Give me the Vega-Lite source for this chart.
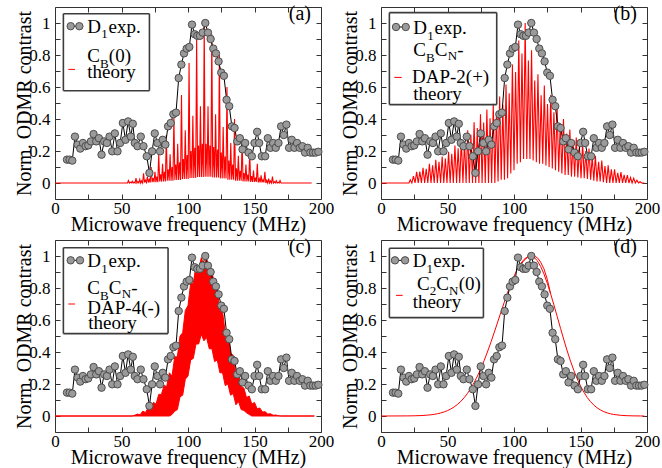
{
"$schema": "https://vega.github.io/schema/vega-lite/v6.json",
"background": "white",
"padding": {"left": 14, "top": 3, "right": 0, "bottom": 0},
"config": {
  "view": {"stroke": "#333333", "strokeWidth": 1},
  "font": "Liberation Serif",
  "axis": {"labelFont": "Liberation Serif", "titleFont": "Liberation Serif", "labelFontSize": 17, "titleFontSize": 20, "titleFontWeight": "normal", "labelColor": "#000000", "titleColor": "#000000", "tickColor": "#333333", "tickWidth": 1, "grid": false, "domain": false, "labelFlush": false, "labelOverlap": false},
  "text": {"font": "Liberation Serif", "color": "#000000"}
},
"datasets": {
  "exp": [
    {"f":9,"v":0.146},{"f":11,"v":0.146},{"f":13,"v":0.14},{"f":15,"v":0.29},{"f":17,"v":0.24},{"f":19,"v":0.215},{"f":21,"v":0.25},{"f":23,"v":0.23},{"f":25,"v":0.235},{"f":27,"v":0.26},
    {"f":29,"v":0.306},{"f":31,"v":0.26},{"f":33,"v":0.28},{"f":35,"v":0.177},{"f":37,"v":0.26},{"f":39,"v":0.25},{"f":41,"v":0.29},{"f":43,"v":0.198},{"f":45,"v":0.31},{"f":47,"v":0.198},
    {"f":49,"v":0.25},{"f":51,"v":0.375},{"f":53,"v":0.27},{"f":55,"v":0.385},{"f":57,"v":0.29},{"f":58.5,"v":0.37},{"f":60,"v":0.25},{"f":62,"v":0.23},{"f":64.5,"v":0.29},{"f":66.5,"v":0.23},
    {"f":69,"v":0.167},{"f":71,"v":0.063},{"f":73,"v":0.198},{"f":75,"v":0.31},{"f":77,"v":0.25},{"f":79,"v":0.198},{"f":81,"v":0.27},{"f":83,"v":0.24},{"f":85,"v":0.354},{"f":87,"v":0.375},
    {"f":89,"v":0.43},{"f":91,"v":0.44},{"f":93,"v":0.656},{"f":95,"v":0.74},{"f":97,"v":0.81},{"f":99,"v":0.84},{"f":101,"v":0.85},{"f":103,"v":0.99},{"f":105,"v":0.93},{"f":107,"v":0.92},
    {"f":109,"v":0.92},{"f":111,"v":0.94},{"f":113,"v":1.0},{"f":115,"v":0.94},{"f":117,"v":0.9},{"f":119,"v":0.84},{"f":121,"v":0.81},{"f":123,"v":0.76},{"f":125,"v":0.69},{"f":127,"v":0.67},
    {"f":129,"v":0.52},{"f":131,"v":0.48},{"f":133,"v":0.354},{"f":135,"v":0.344},{"f":137,"v":0.26},{"f":139,"v":0.28},{"f":141,"v":0.21},{"f":143,"v":0.25},{"f":145.5,"v":0.19},{"f":148,"v":0.167},
    {"f":150,"v":0.25},{"f":152,"v":0.32},{"f":153.5,"v":0.25},{"f":155.5,"v":0.167},{"f":158,"v":0.167},{"f":160,"v":0.28},{"f":162,"v":0.22},{"f":164,"v":0.25},{"f":166,"v":0.22},{"f":168,"v":0.25},
    {"f":170,"v":0.354},{"f":172,"v":0.3},{"f":174,"v":0.365},{"f":176,"v":0.22},{"f":178,"v":0.27},{"f":180,"v":0.22},{"f":182,"v":0.25},{"f":184,"v":0.22},{"f":186,"v":0.23},{"f":188,"v":0.19},
    {"f":190,"v":0.22},{"f":192,"v":0.19},{"f":194,"v":0.19},{"f":196,"v":0.19},{"f":198,"v":0.195}
  ],
  "thA": [
    {"f":0,"v":0},{"f":54.5,"v":0},
    {"f":55.2,"v":0.015},{"f":55.91,"v":0},{"f":56.63,"v":0.005},{"f":57.34,"v":0},{"f":58.05,"v":0.011},{"f":58.76,"v":0},{"f":59.48,"v":0.0065},{"f":60.19,"v":0},
    {"f":60.9,"v":0.03},{"f":61.61,"v":0},{"f":62.33,"v":0.009},{"f":63.04,"v":0},{"f":63.75,"v":0.0225},{"f":64.46,"v":0},{"f":65.18,"v":0.013},{"f":65.89,"v":0},
    {"f":66.6,"v":0.06},{"f":67.31,"v":0.003},{"f":68.03,"v":0.0175},{"f":68.74,"v":0.003},{"f":69.45,"v":0.04},{"f":70.16,"v":0.003},{"f":70.88,"v":0.0225},{"f":71.59,"v":0.003},
    {"f":72.3,"v":0.1},{"f":73.01,"v":0.005},{"f":73.73,"v":0.03},{"f":74.44,"v":0.005},{"f":75.15,"v":0.07},{"f":75.86,"v":0.005},{"f":76.58,"v":0.04},{"f":77.29,"v":0.005},
    {"f":78.0,"v":0.18},{"f":78.71,"v":0.009},{"f":79.43,"v":0.055},{"f":80.14,"v":0.009},{"f":80.85,"v":0.12},{"f":81.56,"v":0.009},{"f":82.28,"v":0.07},{"f":82.99,"v":0.009},
    {"f":83.7,"v":0.3},{"f":84.41,"v":0.014},{"f":85.13,"v":0.085},{"f":85.84,"v":0.014},{"f":86.55,"v":0.18},{"f":87.26,"v":0.014},{"f":87.98,"v":0.1},{"f":88.69,"v":0.014},
    {"f":89.4,"v":0.42},{"f":90.11,"v":0.019},{"f":90.83,"v":0.115},{"f":91.54,"v":0.019},{"f":92.25,"v":0.245},{"f":92.96,"v":0.019},{"f":93.68,"v":0.13},{"f":94.39,"v":0.019},
    {"f":95.1,"v":0.55},{"f":95.81,"v":0.025},{"f":96.53,"v":0.15},{"f":97.24,"v":0.025},{"f":97.95,"v":0.33},{"f":98.66,"v":0.025},{"f":99.38,"v":0.175},{"f":100.09,"v":0.025},
    {"f":100.8,"v":0.75},{"f":101.51,"v":0.032},{"f":102.23,"v":0.2},{"f":102.94,"v":0.032},{"f":103.65,"v":0.42},{"f":104.36,"v":0.032},{"f":105.08,"v":0.22},{"f":105.79,"v":0.032},
    {"f":106.5,"v":0.92},{"f":107.21,"v":0.038},{"f":107.93,"v":0.235},{"f":108.64,"v":0.038},{"f":109.35,"v":0.48},{"f":110.06,"v":0.038},{"f":110.78,"v":0.245},{"f":111.49,"v":0.038},
    {"f":112.2,"v":1.0},{"f":112.91,"v":0.039},{"f":113.63,"v":0.245},{"f":114.34,"v":0.039},{"f":115.05,"v":0.48},{"f":115.76,"v":0.039},{"f":116.48,"v":0.235},{"f":117.19,"v":0.039},
    {"f":117.9,"v":0.93},{"f":118.61,"v":0.035},{"f":119.33,"v":0.225},{"f":120.04,"v":0.035},{"f":120.75,"v":0.43},{"f":121.46,"v":0.035},{"f":122.18,"v":0.21},{"f":122.89,"v":0.035},
    {"f":123.6,"v":0.8},{"f":124.31,"v":0.029},{"f":125.03,"v":0.19},{"f":125.74,"v":0.029},{"f":126.45,"v":0.35},{"f":127.16,"v":0.029},{"f":127.88,"v":0.165},{"f":128.59,"v":0.029},
    {"f":129.3,"v":0.6},{"f":130.01,"v":0.021},{"f":130.73,"v":0.14},{"f":131.44,"v":0.021},{"f":132.15,"v":0.25},{"f":132.86,"v":0.021},{"f":133.58,"v":0.115},{"f":134.29,"v":0.021},
    {"f":135.0,"v":0.4},{"f":135.71,"v":0.014},{"f":136.43,"v":0.092},{"f":137.14,"v":0.014},{"f":137.85,"v":0.17},{"f":138.56,"v":0.014},{"f":139.28,"v":0.076},{"f":139.99,"v":0.014},
    {"f":140.7,"v":0.27},{"f":141.41,"v":0.01},{"f":142.13,"v":0.062},{"f":142.84,"v":0.01},{"f":143.55,"v":0.115},{"f":144.26,"v":0.01},{"f":144.98,"v":0.052},{"f":145.69,"v":0.01},
    {"f":146.4,"v":0.19},{"f":147.11,"v":0.007},{"f":147.83,"v":0.043},{"f":148.54,"v":0.007},{"f":149.25,"v":0.078},{"f":149.96,"v":0.007},{"f":150.68,"v":0.034},{"f":151.39,"v":0.007},
    {"f":152.1,"v":0.12},{"f":152.81,"v":0.004},{"f":153.53,"v":0.027},{"f":154.24,"v":0.004},{"f":154.95,"v":0.048},{"f":155.66,"v":0.004},{"f":156.38,"v":0.02},{"f":157.09,"v":0.004},
    {"f":157.8,"v":0.07},{"f":158.51,"v":0},{"f":159.23,"v":0.016},{"f":159.94,"v":0},{"f":160.65,"v":0.028},{"f":161.36,"v":0},{"f":162.08,"v":0.012},{"f":162.79,"v":0},
    {"f":163.5,"v":0.04},{"f":164.21,"v":0},{"f":164.93,"v":0.008},{"f":165.64,"v":0},{"f":166.35,"v":0.014},{"f":167.06,"v":0},{"f":167.78,"v":0.005},{"f":168.49,"v":0},
    {"f":169.2,"v":0.015},{"f":169.91,"v":0},{"f":193,"v":0}
  ],
  "thB": [
    {"f":0,"v":0},{"f":21,"v":0},
    {"f":22.0,"v":0.02},{"f":23.2,"v":0},{"f":24.4,"v":0.043},{"f":25.6,"v":0},{"f":26.8,"v":0.07},{"f":28.0,"v":0},
    {"f":29.2,"v":0.072},{"f":30.4,"v":0},{"f":31.6,"v":0.095},{"f":32.8,"v":0},{"f":34.0,"v":0.089},{"f":35.2,"v":0},
    {"f":36.4,"v":0.12},{"f":37.6,"v":0},{"f":38.8,"v":0.11},{"f":40.0,"v":0},{"f":41.2,"v":0.145},{"f":42.4,"v":0},
    {"f":43.6,"v":0.132},{"f":44.8,"v":0},{"f":46.0,"v":0.165},{"f":47.2,"v":0},{"f":48.4,"v":0.153},{"f":49.6,"v":0},
    {"f":50.8,"v":0.195},{"f":52.0,"v":0},{"f":53.2,"v":0.183},{"f":54.4,"v":0},{"f":55.6,"v":0.235},{"f":56.8,"v":0},
    {"f":58.0,"v":0.217},{"f":59.2,"v":0},{"f":60.4,"v":0.275},{"f":61.6,"v":0},{"f":62.8,"v":0.259},{"f":64.0,"v":0},
    {"f":65.2,"v":0.33},{"f":66.4,"v":0},{"f":67.6,"v":0.302},{"f":68.8,"v":0},{"f":70.0,"v":0.38},{"f":71.2,"v":0},
    {"f":72.4,"v":0.344},{"f":73.6,"v":0},{"f":74.8,"v":0.43},{"f":76.0,"v":0},{"f":77.2,"v":0.378},{"f":78.4,"v":0},
    {"f":79.6,"v":0.46},{"f":80.8,"v":0},{"f":82.0,"v":0.404},{"f":83.2,"v":0},{"f":84.4,"v":0.495},{"f":85.6,"v":0},
    {"f":86.8,"v":0.442},{"f":88.0,"v":0.01},{"f":89.2,"v":0.54},{"f":90.4,"v":0.02},{"f":91.6,"v":0.489},{"f":92.8,"v":0.02},
    {"f":94.0,"v":0.615},{"f":95.2,"v":0.03},{"f":96.4,"v":0.561},{"f":97.6,"v":0.06},{"f":98.8,"v":0.74},{"f":100.0,"v":0.08},
    {"f":101.2,"v":0.693},{"f":102.4,"v":0.12},{"f":103.6,"v":0.89},{"f":104.8,"v":0.13},{"f":106.0,"v":0.81},{"f":107.2,"v":0.15},
    {"f":108.4,"v":1.0},{"f":109.6,"v":0.15},{"f":110.8,"v":0.765},{"f":112.0,"v":0.15},{"f":113.2,"v":0.83},{"f":114.4,"v":0.14},
    {"f":115.6,"v":0.64},{"f":116.8,"v":0.13},{"f":118.0,"v":0.68},{"f":119.2,"v":0.12},{"f":120.4,"v":0.548},{"f":121.6,"v":0.12},
    {"f":122.8,"v":0.61},{"f":124.0,"v":0.11},{"f":125.2,"v":0.493},{"f":126.4,"v":0.1},{"f":127.6,"v":0.55},{"f":128.8,"v":0.09},
    {"f":130.0,"v":0.442},{"f":131.2,"v":0.08},{"f":132.4,"v":0.475},{"f":133.6,"v":0.07},{"f":134.8,"v":0.37},{"f":136.0,"v":0.06},
    {"f":137.2,"v":0.4},{"f":138.4,"v":0.05},{"f":139.6,"v":0.31},{"f":140.8,"v":0.05},{"f":142.0,"v":0.335},{"f":143.2,"v":0.04},
    {"f":144.4,"v":0.259},{"f":145.6,"v":0.04},{"f":146.8,"v":0.285},{"f":148.0,"v":0.035},{"f":149.2,"v":0.225},{"f":150.4,"v":0.03},
    {"f":151.6,"v":0.25},{"f":152.8,"v":0.03},{"f":154.0,"v":0.2},{"f":155.2,"v":0.025},{"f":156.4,"v":0.215},{"f":157.6,"v":0.02},
    {"f":158.8,"v":0.162},{"f":160.0,"v":0.015},{"f":161.2,"v":0.17},{"f":162.4,"v":0.01},{"f":163.6,"v":0.132},{"f":164.8,"v":0.01},
    {"f":166.0,"v":0.14},{"f":167.2,"v":0.005},{"f":168.4,"v":0.106},{"f":169.6,"v":0},{"f":170.8,"v":0.11},{"f":172.0,"v":0},
    {"f":173.2,"v":0.085},{"f":174.4,"v":0},{"f":175.6,"v":0.085},{"f":176.8,"v":0},{"f":178.0,"v":0.064},{"f":179.2,"v":0},
    {"f":180.4,"v":0.068},{"f":181.6,"v":0},{"f":182.8,"v":0.051},{"f":184.0,"v":0},{"f":185.2,"v":0.05},{"f":186.4,"v":0},
    {"f":187.6,"v":0.034},{"f":188.8,"v":0},{"f":190.0,"v":0.03},{"f":191.2,"v":0},{"f":192.4,"v":0.018},{"f":193.6,"v":0},
    {"f":194.8,"v":0.008},{"f":196.0,"v":0},{"f":198.0,"v":0}
  ],
  "thC": [
    {"f":0,"lo":0,"hi":0},{"f":58,"lo":0,"hi":0},{"f":60,"lo":0,"hi":0.005},{"f":62,"lo":0,"hi":0.012},{"f":64,"lo":0,"hi":0.008},
    {"f":66,"lo":0,"hi":0.03},{"f":68,"lo":0,"hi":0.022},{"f":70,"lo":0,"hi":0.05},{"f":72,"lo":0,"hi":0.045},{"f":74,"lo":0,"hi":0.085},
    {"f":76,"lo":0,"hi":0.075},{"f":78,"lo":0,"hi":0.135},{"f":80,"lo":0,"hi":0.135},{"f":82,"lo":0,"hi":0.19},{"f":84,"lo":0,"hi":0.185},
    {"f":86,"lo":0,"hi":0.27},{"f":88,"lo":0.01,"hi":0.25},{"f":90,"lo":0.03,"hi":0.37},{"f":92,"lo":0.04,"hi":0.37},{"f":94,"lo":0.12,"hi":0.5},
    {"f":96,"lo":0.13,"hi":0.52},{"f":98,"lo":0.23,"hi":0.66},{"f":100,"lo":0.25,"hi":0.69},{"f":102,"lo":0.35,"hi":0.83},{"f":104,"lo":0.36,"hi":0.83},
    {"f":106,"lo":0.45,"hi":0.94},{"f":108,"lo":0.45,"hi":0.91},{"f":110,"lo":0.51,"hi":0.99},{"f":112,"lo":0.47,"hi":0.94},{"f":114,"lo":0.49,"hi":0.99},
    {"f":116,"lo":0.42,"hi":0.9},{"f":118,"lo":0.42,"hi":0.91},{"f":120,"lo":0.34,"hi":0.8},{"f":122,"lo":0.35,"hi":0.79},{"f":124,"lo":0.27,"hi":0.66},
    {"f":126,"lo":0.27,"hi":0.65},{"f":128,"lo":0.19,"hi":0.52},{"f":130,"lo":0.2,"hi":0.51},{"f":132,"lo":0.13,"hi":0.39},{"f":134,"lo":0.14,"hi":0.38},
    {"f":136,"lo":0.07,"hi":0.26},{"f":138,"lo":0.09,"hi":0.27},{"f":140,"lo":0.04,"hi":0.185},{"f":142,"lo":0.035,"hi":0.175},{"f":144,"lo":0.02,"hi":0.115},
    {"f":146,"lo":0.01,"hi":0.125},{"f":148,"lo":0,"hi":0.075},{"f":150,"lo":0,"hi":0.085},{"f":152,"lo":0,"hi":0.045},{"f":154,"lo":0,"hi":0.05},
    {"f":156,"lo":0,"hi":0.025},{"f":158,"lo":0,"hi":0.027},{"f":160,"lo":0,"hi":0.012},{"f":162,"lo":0,"hi":0.014},{"f":164,"lo":0,"hi":0.005},
    {"f":166,"lo":0,"hi":0.006},{"f":168,"lo":0,"hi":0.002},{"f":170,"lo":0,"hi":0},{"f":195,"lo":0,"hi":0}
  ],
  "thD": [
    {"f":0,"v":0,"c":1},{"f":20,"v":0.0006,"c":1},{"f":25,"v":0.0013,"c":1},{"f":30,"v":0.0027,"c":1},{"f":35,"v":0.0054,"c":1},{"f":37.5,"v":0.0076,"c":1},
    {"f":40,"v":0.0104,"c":1},{"f":42.5,"v":0.0142,"c":1},{"f":45,"v":0.0192,"c":1},{"f":47.5,"v":0.0255,"c":1},{"f":50,"v":0.0337,"c":1},{"f":52.5,"v":0.0439,"c":1},
    {"f":55,"v":0.0567,"c":1},{"f":57.5,"v":0.0724,"c":1},{"f":60,"v":0.0914,"c":1},{"f":62.5,"v":0.1142,"c":1},{"f":65,"v":0.1411,"c":1},{"f":67.5,"v":0.1724,"c":1},
    {"f":70,"v":0.2085,"c":1},{"f":72.5,"v":0.2494,"c":1},{"f":75,"v":0.295,"c":1},{"f":77.5,"v":0.3453,"c":1},{"f":80,"v":0.3998,"c":1},{"f":82.5,"v":0.4578,"c":1},
    {"f":85,"v":0.5187,"c":1},{"f":87.5,"v":0.5813,"c":1},{"f":90,"v":0.6444,"c":1},{"f":92.5,"v":0.7067,"c":1},{"f":95,"v":0.7666,"c":1},{"f":97.5,"v":0.8226,"c":1},
    {"f":100,"v":0.8732,"c":1},{"f":102.5,"v":0.9169,"c":1},{"f":105,"v":0.9523,"c":1},{"f":107.5,"v":0.9785,"c":1},{"f":110,"v":0.9946,"c":1},{"f":112.5,"v":1.0,"c":1},
    {"f":115,"v":0.9926,"c":1},{"f":117.5,"v":0.9707,"c":1},{"f":120,"v":0.9353,"c":1},{"f":122.5,"v":0.8878,"c":1},{"f":125,"v":0.8304,"c":1},{"f":127.5,"v":0.7651,"c":1},
    {"f":130,"v":0.6946,"c":1},{"f":132.5,"v":0.6213,"c":1},{"f":135,"v":0.5475,"c":1},{"f":137.5,"v":0.4754,"c":1},{"f":140,"v":0.4067,"c":1},{"f":142.5,"v":0.3427,"c":1},
    {"f":145,"v":0.2846,"c":1},{"f":147.5,"v":0.2328,"c":1},{"f":150,"v":0.1877,"c":1},{"f":152.5,"v":0.149,"c":1},{"f":155,"v":0.1166,"c":1},{"f":157.5,"v":0.0899,"c":1},
    {"f":160,"v":0.0683,"c":1},{"f":162.5,"v":0.0511,"c":1},{"f":165,"v":0.0376,"c":1},{"f":167.5,"v":0.0273,"c":1},{"f":170,"v":0.0196,"c":1},{"f":172.5,"v":0.0138,"c":1},
    {"f":175,"v":0.0096,"c":1},{"f":180,"v":0.0044,"c":1},{"f":185,"v":0.0019,"c":1},{"f":190,"v":0.0007,"c":1},{"f":195,"v":0.0002,"c":1},{"f":198,"v":0,"c":1},
    {"f":102.5,"v":0.9169,"c":2},{"f":105,"v":0.945,"c":2},{"f":107.5,"v":0.972,"c":2},{"f":110,"v":0.99,"c":2},{"f":112.5,"v":0.998,"c":2},{"f":115,"v":1.0,"c":2},
    {"f":117.5,"v":0.99,"c":2},{"f":120,"v":0.962,"c":2},{"f":122.5,"v":0.92,"c":2},{"f":125,"v":0.855,"c":2},{"f":127.5,"v":0.7651,"c":2}
  ]
},
"concat": [
  {
    "width": 266, "height": 192,
    "data": {"values": [{}]},
    "resolve": {"axis": {"x": "independent", "y": "independent"}},
    "layer": [
      {"data": {"name": "thA"}, "mark": {"type": "line", "color": "#ff0000", "strokeWidth": 1.1},
       "encoding": {
         "x": {"field": "f", "type": "quantitative", "scale": {"domain": [0, 200], "nice": false, "zero": false}, "axis": {"orient": "top", "values": [0,25,50,75,100,125,150,175,200], "labels": false, "tickSize": -5, "title": null}},
         "y": {"field": "v", "type": "quantitative", "scale": {"domain": [-0.1, 1.1], "nice": false, "zero": false}, "axis": {"orient": "right", "values": [0,0.1,0.2,0.3,0.4,0.5,0.6,0.7,0.8,0.9,1], "labels": false, "tickSize": -5, "title": null}}}},
      {"data": {"name": "exp"}, "mark": {"type": "line", "color": "#000000", "strokeWidth": 1},
       "encoding": {
         "x": {"field": "f", "type": "quantitative", "axis": {"orient": "bottom", "values": [0,25,50,75,100,125,150,175,200], "labelExpr": "datum.value % 50 == 0 ? datum.label : ''", "tickSize": -5, "labelPadding": 6, "title": "Microwave frequency (MHz)", "titlePadding": -2}},
         "y": {"field": "v", "type": "quantitative", "axis": {"orient": "left", "values": [0,0.1,0.2,0.3,0.4,0.5,0.6,0.7,0.8,0.9,1], "format": "~g", "labelExpr": "indexof(['0','0.2','0.4','0.6','0.8','1'], datum.label) >= 0 ? datum.label : ''", "tickSize": -5, "labelPadding": 10, "title": "Norm. ODMR contrast", "titlePadding": -6}}}},
      {"data": {"name": "exp"}, "mark": {"type": "circle", "color": "#9a9a9a", "stroke": "#4d4d4d", "strokeWidth": 1, "size": 55, "opacity": 1},
       "encoding": {"x": {"field": "f", "type": "quantitative", "axis": null}, "y": {"field": "v", "type": "quantitative", "axis": null}}},
      {"mark": {"type": "rule", "color": "#3c3c3c", "strokeWidth": 1.6},
       "encoding": {"x": {"datum": 6.3, "type": "quantitative", "axis": null}, "y": {"datum": 0.577, "type": "quantitative", "axis": null}, "y2": {"datum": 1.058}}},
      {"mark": {"type": "rule", "color": "#3c3c3c", "strokeWidth": 1.6},
       "encoding": {"x": {"datum": 71, "type": "quantitative", "axis": null}, "y": {"datum": 0.577, "type": "quantitative", "axis": null}, "y2": {"datum": 1.058}}},
      {"mark": {"type": "rule", "color": "#3c3c3c", "strokeWidth": 1.6},
       "encoding": {"x": {"datum": 6.3, "type": "quantitative", "axis": null}, "x2": {"datum": 71}, "y": {"datum": 1.058, "type": "quantitative", "axis": null}}},
      {"mark": {"type": "rule", "color": "#3c3c3c", "strokeWidth": 1.6},
       "encoding": {"x": {"datum": 6.3, "type": "quantitative", "axis": null}, "x2": {"datum": 71}, "y": {"datum": 0.577, "type": "quantitative", "axis": null}}},
      {"mark": {"type": "rule", "color": "#000000", "strokeWidth": 1},
       "encoding": {"x": {"datum": 11.8, "type": "quantitative", "axis": null}, "x2": {"datum": 18.3}, "y": {"datum": 0.98, "type": "quantitative", "axis": null}}},
      {"mark": {"type": "circle", "color": "#9a9a9a", "stroke": "#4d4d4d", "strokeWidth": 1, "size": 55, "opacity": 1},
       "encoding": {"x": {"datum": 11.8, "type": "quantitative", "axis": null}, "y": {"datum": 0.98, "type": "quantitative", "axis": null}}},
      {"mark": {"type": "circle", "color": "#9a9a9a", "stroke": "#4d4d4d", "strokeWidth": 1, "size": 55, "opacity": 1},
       "encoding": {"x": {"datum": 18.3, "type": "quantitative", "axis": null}, "y": {"datum": 0.98, "type": "quantitative", "axis": null}}},
      {"mark": {"type": "text", "text": "D", "align": "left", "baseline": "alphabetic", "fontSize": 19},
       "encoding": {"x": {"datum": 24.3, "type": "quantitative", "axis": null}, "y": {"datum": 0.94, "type": "quantitative", "axis": null}}},
      {"mark": {"type": "text", "text": "1", "align": "left", "baseline": "alphabetic", "fontSize": 13},
       "encoding": {"x": {"datum": 34.7, "type": "quantitative", "axis": null}, "y": {"datum": 0.905, "type": "quantitative", "axis": null}}},
      {"mark": {"type": "text", "text": "exp.", "align": "left", "baseline": "alphabetic", "fontSize": 19},
       "encoding": {"x": {"datum": 40.3, "type": "quantitative", "axis": null}, "y": {"datum": 0.94, "type": "quantitative", "axis": null}}},
      {"mark": {"type": "rule", "color": "#ff0000", "strokeWidth": 1},
       "encoding": {"x": {"datum": 10, "type": "quantitative", "axis": null}, "x2": {"datum": 15}, "y": {"datum": 0.71, "type": "quantitative", "axis": null}}},
      {"mark": {"type": "text", "text": "C", "align": "left", "baseline": "alphabetic", "fontSize": 19},
       "encoding": {"x": {"datum": 24.3, "type": "quantitative", "axis": null}, "y": {"datum": 0.755, "type": "quantitative", "axis": null}}},
      {"mark": {"type": "text", "text": "B", "align": "left", "baseline": "alphabetic", "fontSize": 13},
       "encoding": {"x": {"datum": 33.9, "type": "quantitative", "axis": null}, "y": {"datum": 0.717, "type": "quantitative", "axis": null}}},
      {"mark": {"type": "text", "text": "(0)", "align": "left", "baseline": "alphabetic", "fontSize": 19},
       "encoding": {"x": {"datum": 40.5, "type": "quantitative", "axis": null}, "y": {"datum": 0.755, "type": "quantitative", "axis": null}}},
      {"mark": {"type": "text", "text": "theory", "align": "left", "baseline": "alphabetic", "fontSize": 19},
       "encoding": {"x": {"datum": 24.3, "type": "quantitative", "axis": null}, "y": {"datum": 0.655, "type": "quantitative", "axis": null}}},
      {"mark": {"type": "text", "text": "(a)", "align": "right", "baseline": "alphabetic", "fontSize": 20},
       "encoding": {"x": {"datum": 192.5, "type": "quantitative", "axis": null}, "y": {"datum": 1.02, "type": "quantitative", "axis": null}}}
    ]
  },
  {
    "width": 266, "height": 192,
    "data": {"values": [{}]},
    "resolve": {"axis": {"x": "independent", "y": "independent"}},
    "layer": [
      {"data": {"name": "thB"}, "mark": {"type": "line", "color": "#ff0000", "strokeWidth": 1.1},
       "encoding": {
         "x": {"field": "f", "type": "quantitative", "scale": {"domain": [0, 200], "nice": false, "zero": false}, "axis": {"orient": "top", "values": [0,25,50,75,100,125,150,175,200], "labels": false, "tickSize": -5, "title": null}},
         "y": {"field": "v", "type": "quantitative", "scale": {"domain": [-0.1, 1.1], "nice": false, "zero": false}, "axis": {"orient": "right", "values": [0,0.1,0.2,0.3,0.4,0.5,0.6,0.7,0.8,0.9,1], "labels": false, "tickSize": -5, "title": null}}}},
      {"data": {"name": "exp"}, "mark": {"type": "line", "color": "#000000", "strokeWidth": 1},
       "encoding": {
         "x": {"field": "f", "type": "quantitative", "axis": {"orient": "bottom", "values": [0,25,50,75,100,125,150,175,200], "labelExpr": "datum.value % 50 == 0 ? datum.label : ''", "tickSize": -5, "labelPadding": 6, "title": "Microwave frequency (MHz)", "titlePadding": -2}},
         "y": {"field": "v", "type": "quantitative", "axis": {"orient": "left", "values": [0,0.1,0.2,0.3,0.4,0.5,0.6,0.7,0.8,0.9,1], "format": "~g", "labelExpr": "indexof(['0','0.2','0.4','0.6','0.8','1'], datum.label) >= 0 ? datum.label : ''", "tickSize": -5, "labelPadding": 10, "title": "Norm. ODMR contrast", "titlePadding": -6}}}},
      {"data": {"name": "exp"}, "mark": {"type": "circle", "color": "#9a9a9a", "stroke": "#4d4d4d", "strokeWidth": 1, "size": 55, "opacity": 1},
       "encoding": {"x": {"field": "f", "type": "quantitative", "axis": null}, "y": {"field": "v", "type": "quantitative", "axis": null}}},
      {"mark": {"type": "rule", "color": "#3c3c3c", "strokeWidth": 1.6},
       "encoding": {"x": {"datum": 6.3, "type": "quantitative", "axis": null}, "y": {"datum": 0.49, "type": "quantitative", "axis": null}, "y2": {"datum": 1.065}}},
      {"mark": {"type": "rule", "color": "#3c3c3c", "strokeWidth": 1.6},
       "encoding": {"x": {"datum": 87, "type": "quantitative", "axis": null}, "y": {"datum": 0.49, "type": "quantitative", "axis": null}, "y2": {"datum": 1.065}}},
      {"mark": {"type": "rule", "color": "#3c3c3c", "strokeWidth": 1.6},
       "encoding": {"x": {"datum": 6.3, "type": "quantitative", "axis": null}, "x2": {"datum": 87}, "y": {"datum": 1.065, "type": "quantitative", "axis": null}}},
      {"mark": {"type": "rule", "color": "#3c3c3c", "strokeWidth": 1.6},
       "encoding": {"x": {"datum": 6.3, "type": "quantitative", "axis": null}, "x2": {"datum": 87}, "y": {"datum": 0.49, "type": "quantitative", "axis": null}}},
      {"mark": {"type": "rule", "color": "#000000", "strokeWidth": 1},
       "encoding": {"x": {"datum": 11.3, "type": "quantitative", "axis": null}, "x2": {"datum": 18.6}, "y": {"datum": 0.975, "type": "quantitative", "axis": null}}},
      {"mark": {"type": "circle", "color": "#9a9a9a", "stroke": "#4d4d4d", "strokeWidth": 1, "size": 55, "opacity": 1},
       "encoding": {"x": {"datum": 11.3, "type": "quantitative", "axis": null}, "y": {"datum": 0.975, "type": "quantitative", "axis": null}}},
      {"mark": {"type": "circle", "color": "#9a9a9a", "stroke": "#4d4d4d", "strokeWidth": 1, "size": 55, "opacity": 1},
       "encoding": {"x": {"datum": 18.6, "type": "quantitative", "axis": null}, "y": {"datum": 0.975, "type": "quantitative", "axis": null}}},
      {"mark": {"type": "text", "text": "D", "align": "left", "baseline": "alphabetic", "fontSize": 19},
       "encoding": {"x": {"datum": 24.3, "type": "quantitative", "axis": null}, "y": {"datum": 0.93, "type": "quantitative", "axis": null}}},
      {"mark": {"type": "text", "text": "1", "align": "left", "baseline": "alphabetic", "fontSize": 13},
       "encoding": {"x": {"datum": 34.7, "type": "quantitative", "axis": null}, "y": {"datum": 0.895, "type": "quantitative", "axis": null}}},
      {"mark": {"type": "text", "text": "exp.", "align": "left", "baseline": "alphabetic", "fontSize": 19},
       "encoding": {"x": {"datum": 40.3, "type": "quantitative", "axis": null}, "y": {"datum": 0.93, "type": "quantitative", "axis": null}}},
      {"mark": {"type": "text", "text": "C", "align": "left", "baseline": "alphabetic", "fontSize": 19},
       "encoding": {"x": {"datum": 24.3, "type": "quantitative", "axis": null}, "y": {"datum": 0.795, "type": "quantitative", "axis": null}}},
      {"mark": {"type": "text", "text": "B", "align": "left", "baseline": "alphabetic", "fontSize": 13},
       "encoding": {"x": {"datum": 33.9, "type": "quantitative", "axis": null}, "y": {"datum": 0.757, "type": "quantitative", "axis": null}}},
      {"mark": {"type": "text", "text": "C", "align": "left", "baseline": "alphabetic", "fontSize": 19},
       "encoding": {"x": {"datum": 40.5, "type": "quantitative", "axis": null}, "y": {"datum": 0.795, "type": "quantitative", "axis": null}}},
      {"mark": {"type": "text", "text": "N", "align": "left", "baseline": "alphabetic", "fontSize": 13},
       "encoding": {"x": {"datum": 50.1, "type": "quantitative", "axis": null}, "y": {"datum": 0.768, "type": "quantitative", "axis": null}}},
      {"mark": {"type": "text", "text": "-", "align": "left", "baseline": "alphabetic", "fontSize": 19},
       "encoding": {"x": {"datum": 57.3, "type": "quantitative", "axis": null}, "y": {"datum": 0.795, "type": "quantitative", "axis": null}}},
      {"mark": {"type": "rule", "color": "#ff0000", "strokeWidth": 1},
       "encoding": {"x": {"datum": 10, "type": "quantitative", "axis": null}, "x2": {"datum": 15.6}, "y": {"datum": 0.66, "type": "quantitative", "axis": null}}},
      {"mark": {"type": "text", "text": "DAP-2(+)", "align": "left", "baseline": "alphabetic", "fontSize": 19},
       "encoding": {"x": {"datum": 23.3, "type": "quantitative", "axis": null}, "y": {"datum": 0.625, "type": "quantitative", "axis": null}}},
      {"mark": {"type": "text", "text": "theory", "align": "left", "baseline": "alphabetic", "fontSize": 19},
       "encoding": {"x": {"datum": 24.3, "type": "quantitative", "axis": null}, "y": {"datum": 0.52, "type": "quantitative", "axis": null}}},
      {"mark": {"type": "text", "text": "(b)", "align": "right", "baseline": "alphabetic", "fontSize": 20},
       "encoding": {"x": {"datum": 192.5, "type": "quantitative", "axis": null}, "y": {"datum": 1.02, "type": "quantitative", "axis": null}}}
    ]
  },
  {
    "width": 266, "height": 192,
    "data": {"values": [{}]},
    "resolve": {"axis": {"x": "independent", "y": "independent"}},
    "layer": [
      {"data": {"name": "thC"}, "mark": {"type": "area", "color": "#ff0000", "opacity": 1},
       "encoding": {
         "x": {"field": "f", "type": "quantitative", "scale": {"domain": [0, 200], "nice": false, "zero": false}, "axis": {"orient": "top", "values": [0,25,50,75,100,125,150,175,200], "labels": false, "tickSize": -5, "title": null}},
         "y": {"field": "hi", "type": "quantitative", "scale": {"domain": [-0.1, 1.1], "nice": false, "zero": false}, "axis": {"orient": "right", "values": [0,0.1,0.2,0.3,0.4,0.5,0.6,0.7,0.8,0.9,1], "labels": false, "tickSize": -5, "title": null}},
         "y2": {"field": "lo"}}},
      {"data": {"name": "thC"}, "mark": {"type": "line", "color": "#ff0000", "strokeWidth": 1},
       "encoding": {"x": {"field": "f", "type": "quantitative", "axis": null}, "y": {"field": "lo", "type": "quantitative", "axis": null}}},
      {"data": {"name": "thC"}, "mark": {"type": "line", "color": "#ff0000", "strokeWidth": 1},
       "encoding": {"x": {"field": "f", "type": "quantitative", "axis": null}, "y": {"field": "hi", "type": "quantitative", "axis": null}}},
      {"data": {"name": "exp"}, "mark": {"type": "line", "color": "#000000", "strokeWidth": 1},
       "encoding": {
         "x": {"field": "f", "type": "quantitative", "axis": {"orient": "bottom", "values": [0,25,50,75,100,125,150,175,200], "labelExpr": "datum.value % 50 == 0 ? datum.label : ''", "tickSize": -5, "labelPadding": 6, "title": "Microwave frequency (MHz)", "titlePadding": -2}},
         "y": {"field": "v", "type": "quantitative", "axis": {"orient": "left", "values": [0,0.1,0.2,0.3,0.4,0.5,0.6,0.7,0.8,0.9,1], "format": "~g", "labelExpr": "indexof(['0','0.2','0.4','0.6','0.8','1'], datum.label) >= 0 ? datum.label : ''", "tickSize": -5, "labelPadding": 10, "title": "Norm. ODMR contrast", "titlePadding": -6}}}},
      {"data": {"name": "exp"}, "mark": {"type": "circle", "color": "#9a9a9a", "stroke": "#4d4d4d", "strokeWidth": 1, "size": 55, "opacity": 1},
       "encoding": {"x": {"field": "f", "type": "quantitative", "axis": null}, "y": {"field": "v", "type": "quantitative", "axis": null}}},
      {"mark": {"type": "rule", "color": "#3c3c3c", "strokeWidth": 1.6},
       "encoding": {"x": {"datum": 6.3, "type": "quantitative", "axis": null}, "y": {"datum": 0.515, "type": "quantitative", "axis": null}, "y2": {"datum": 1.052}}},
      {"mark": {"type": "rule", "color": "#3c3c3c", "strokeWidth": 1.6},
       "encoding": {"x": {"datum": 85, "type": "quantitative", "axis": null}, "y": {"datum": 0.515, "type": "quantitative", "axis": null}, "y2": {"datum": 1.052}}},
      {"mark": {"type": "rule", "color": "#3c3c3c", "strokeWidth": 1.6},
       "encoding": {"x": {"datum": 6.3, "type": "quantitative", "axis": null}, "x2": {"datum": 85}, "y": {"datum": 1.052, "type": "quantitative", "axis": null}}},
      {"mark": {"type": "rule", "color": "#3c3c3c", "strokeWidth": 1.6},
       "encoding": {"x": {"datum": 6.3, "type": "quantitative", "axis": null}, "x2": {"datum": 85}, "y": {"datum": 0.515, "type": "quantitative", "axis": null}}},
      {"mark": {"type": "rule", "color": "#000000", "strokeWidth": 1},
       "encoding": {"x": {"datum": 11.8, "type": "quantitative", "axis": null}, "x2": {"datum": 18.8}, "y": {"datum": 0.973, "type": "quantitative", "axis": null}}},
      {"mark": {"type": "circle", "color": "#9a9a9a", "stroke": "#4d4d4d", "strokeWidth": 1, "size": 55, "opacity": 1},
       "encoding": {"x": {"datum": 11.8, "type": "quantitative", "axis": null}, "y": {"datum": 0.973, "type": "quantitative", "axis": null}}},
      {"mark": {"type": "circle", "color": "#9a9a9a", "stroke": "#4d4d4d", "strokeWidth": 1, "size": 55, "opacity": 1},
       "encoding": {"x": {"datum": 18.8, "type": "quantitative", "axis": null}, "y": {"datum": 0.973, "type": "quantitative", "axis": null}}},
      {"mark": {"type": "text", "text": "D", "align": "left", "baseline": "alphabetic", "fontSize": 19},
       "encoding": {"x": {"datum": 24.3, "type": "quantitative", "axis": null}, "y": {"datum": 0.93, "type": "quantitative", "axis": null}}},
      {"mark": {"type": "text", "text": "1", "align": "left", "baseline": "alphabetic", "fontSize": 13},
       "encoding": {"x": {"datum": 34.7, "type": "quantitative", "axis": null}, "y": {"datum": 0.895, "type": "quantitative", "axis": null}}},
      {"mark": {"type": "text", "text": "exp.", "align": "left", "baseline": "alphabetic", "fontSize": 19},
       "encoding": {"x": {"datum": 40.3, "type": "quantitative", "axis": null}, "y": {"datum": 0.93, "type": "quantitative", "axis": null}}},
      {"mark": {"type": "text", "text": "C", "align": "left", "baseline": "alphabetic", "fontSize": 19},
       "encoding": {"x": {"datum": 24.3, "type": "quantitative", "axis": null}, "y": {"datum": 0.765, "type": "quantitative", "axis": null}}},
      {"mark": {"type": "text", "text": "B", "align": "left", "baseline": "alphabetic", "fontSize": 13},
       "encoding": {"x": {"datum": 33.9, "type": "quantitative", "axis": null}, "y": {"datum": 0.727, "type": "quantitative", "axis": null}}},
      {"mark": {"type": "text", "text": "C", "align": "left", "baseline": "alphabetic", "fontSize": 19},
       "encoding": {"x": {"datum": 40.5, "type": "quantitative", "axis": null}, "y": {"datum": 0.765, "type": "quantitative", "axis": null}}},
      {"mark": {"type": "text", "text": "N", "align": "left", "baseline": "alphabetic", "fontSize": 13},
       "encoding": {"x": {"datum": 50.1, "type": "quantitative", "axis": null}, "y": {"datum": 0.738, "type": "quantitative", "axis": null}}},
      {"mark": {"type": "text", "text": "-", "align": "left", "baseline": "alphabetic", "fontSize": 19},
       "encoding": {"x": {"datum": 57.3, "type": "quantitative", "axis": null}, "y": {"datum": 0.765, "type": "quantitative", "axis": null}}},
      {"mark": {"type": "rule", "color": "#ff0000", "strokeWidth": 1},
       "encoding": {"x": {"datum": 10, "type": "quantitative", "axis": null}, "x2": {"datum": 15}, "y": {"datum": 0.7, "type": "quantitative", "axis": null}}},
      {"mark": {"type": "text", "text": "DAP-4(-)", "align": "left", "baseline": "alphabetic", "fontSize": 19},
       "encoding": {"x": {"datum": 24.3, "type": "quantitative", "axis": null}, "y": {"datum": 0.64, "type": "quantitative", "axis": null}}},
      {"mark": {"type": "text", "text": "theory", "align": "left", "baseline": "alphabetic", "fontSize": 19},
       "encoding": {"x": {"datum": 25, "type": "quantitative", "axis": null}, "y": {"datum": 0.545, "type": "quantitative", "axis": null}}},
      {"mark": {"type": "text", "text": "(c)", "align": "right", "baseline": "alphabetic", "fontSize": 20},
       "encoding": {"x": {"datum": 192.5, "type": "quantitative", "axis": null}, "y": {"datum": 1.02, "type": "quantitative", "axis": null}}}
    ]
  },
  {
    "width": 266, "height": 192,
    "data": {"values": [{}]},
    "resolve": {"axis": {"x": "independent", "y": "independent"}},
    "layer": [
      {"data": {"name": "thD"}, "mark": {"type": "line", "color": "#ff0000", "strokeWidth": 1},
       "encoding": {
         "x": {"field": "f", "type": "quantitative", "scale": {"domain": [0, 200], "nice": false, "zero": false}, "axis": {"orient": "top", "values": [0,25,50,75,100,125,150,175,200], "labels": false, "tickSize": -5, "title": null}},
         "y": {"field": "v", "type": "quantitative", "scale": {"domain": [-0.1, 1.1], "nice": false, "zero": false}, "axis": {"orient": "right", "values": [0,0.1,0.2,0.3,0.4,0.5,0.6,0.7,0.8,0.9,1], "labels": false, "tickSize": -5, "title": null}},
         "detail": {"field": "c", "type": "nominal"}}},
      {"data": {"name": "exp"}, "mark": {"type": "line", "color": "#000000", "strokeWidth": 1},
       "encoding": {
         "x": {"field": "f", "type": "quantitative", "axis": {"orient": "bottom", "values": [0,25,50,75,100,125,150,175,200], "labelExpr": "datum.value % 50 == 0 ? datum.label : ''", "tickSize": -5, "labelPadding": 6, "title": "Microwave frequency (MHz)", "titlePadding": -2}},
         "y": {"field": "v", "type": "quantitative", "axis": {"orient": "left", "values": [0,0.1,0.2,0.3,0.4,0.5,0.6,0.7,0.8,0.9,1], "format": "~g", "labelExpr": "indexof(['0','0.2','0.4','0.6','0.8','1'], datum.label) >= 0 ? datum.label : ''", "tickSize": -5, "labelPadding": 10, "title": "Norm. ODMR contrast", "titlePadding": -6}}}},
      {"data": {"name": "exp"}, "mark": {"type": "circle", "color": "#9a9a9a", "stroke": "#4d4d4d", "strokeWidth": 1, "size": 55, "opacity": 1},
       "encoding": {"x": {"field": "f", "type": "quantitative", "axis": null}, "y": {"field": "v", "type": "quantitative", "axis": null}}},
      {"mark": {"type": "rule", "color": "#3c3c3c", "strokeWidth": 1.6},
       "encoding": {"x": {"datum": 6.3, "type": "quantitative", "axis": null}, "y": {"datum": 0.615, "type": "quantitative", "axis": null}, "y2": {"datum": 1.048}}},
      {"mark": {"type": "rule", "color": "#3c3c3c", "strokeWidth": 1.6},
       "encoding": {"x": {"datum": 77, "type": "quantitative", "axis": null}, "y": {"datum": 0.615, "type": "quantitative", "axis": null}, "y2": {"datum": 1.048}}},
      {"mark": {"type": "rule", "color": "#3c3c3c", "strokeWidth": 1.6},
       "encoding": {"x": {"datum": 6.3, "type": "quantitative", "axis": null}, "x2": {"datum": 77}, "y": {"datum": 1.048, "type": "quantitative", "axis": null}}},
      {"mark": {"type": "rule", "color": "#3c3c3c", "strokeWidth": 1.6},
       "encoding": {"x": {"datum": 6.3, "type": "quantitative", "axis": null}, "x2": {"datum": 77}, "y": {"datum": 0.615, "type": "quantitative", "axis": null}}},
      {"mark": {"type": "rule", "color": "#000000", "strokeWidth": 1},
       "encoding": {"x": {"datum": 10.5, "type": "quantitative", "axis": null}, "x2": {"datum": 18.1}, "y": {"datum": 0.973, "type": "quantitative", "axis": null}}},
      {"mark": {"type": "circle", "color": "#9a9a9a", "stroke": "#4d4d4d", "strokeWidth": 1, "size": 55, "opacity": 1},
       "encoding": {"x": {"datum": 10.5, "type": "quantitative", "axis": null}, "y": {"datum": 0.973, "type": "quantitative", "axis": null}}},
      {"mark": {"type": "circle", "color": "#9a9a9a", "stroke": "#4d4d4d", "strokeWidth": 1, "size": 55, "opacity": 1},
       "encoding": {"x": {"datum": 18.1, "type": "quantitative", "axis": null}, "y": {"datum": 0.973, "type": "quantitative", "axis": null}}},
      {"mark": {"type": "text", "text": "D", "align": "left", "baseline": "alphabetic", "fontSize": 19},
       "encoding": {"x": {"datum": 23.8, "type": "quantitative", "axis": null}, "y": {"datum": 0.931, "type": "quantitative", "axis": null}}},
      {"mark": {"type": "text", "text": "1", "align": "left", "baseline": "alphabetic", "fontSize": 13},
       "encoding": {"x": {"datum": 34.2, "type": "quantitative", "axis": null}, "y": {"datum": 0.896, "type": "quantitative", "axis": null}}},
      {"mark": {"type": "text", "text": "exp.", "align": "left", "baseline": "alphabetic", "fontSize": 19},
       "encoding": {"x": {"datum": 39.2, "type": "quantitative", "axis": null}, "y": {"datum": 0.931, "type": "quantitative", "axis": null}}},
      {"mark": {"type": "rule", "color": "#ff0000", "strokeWidth": 1},
       "encoding": {"x": {"datum": 11.3, "type": "quantitative", "axis": null}, "x2": {"datum": 16.3}, "y": {"datum": 0.754, "type": "quantitative", "axis": null}}},
      {"mark": {"type": "text", "text": "C", "align": "left", "baseline": "alphabetic", "fontSize": 19},
       "encoding": {"x": {"datum": 27, "type": "quantitative", "axis": null}, "y": {"datum": 0.79, "type": "quantitative", "axis": null}}},
      {"mark": {"type": "text", "text": "2", "align": "left", "baseline": "alphabetic", "fontSize": 13},
       "encoding": {"x": {"datum": 36.6, "type": "quantitative", "axis": null}, "y": {"datum": 0.755, "type": "quantitative", "axis": null}}},
      {"mark": {"type": "text", "text": "C", "align": "left", "baseline": "alphabetic", "fontSize": 19},
       "encoding": {"x": {"datum": 41.6, "type": "quantitative", "axis": null}, "y": {"datum": 0.79, "type": "quantitative", "axis": null}}},
      {"mark": {"type": "text", "text": "N", "align": "left", "baseline": "alphabetic", "fontSize": 13},
       "encoding": {"x": {"datum": 51.2, "type": "quantitative", "axis": null}, "y": {"datum": 0.755, "type": "quantitative", "axis": null}}},
      {"mark": {"type": "text", "text": "(0)", "align": "left", "baseline": "alphabetic", "fontSize": 19},
       "encoding": {"x": {"datum": 58.4, "type": "quantitative", "axis": null}, "y": {"datum": 0.79, "type": "quantitative", "axis": null}}},
      {"mark": {"type": "text", "text": "theory", "align": "left", "baseline": "alphabetic", "fontSize": 19},
       "encoding": {"x": {"datum": 23.8, "type": "quantitative", "axis": null}, "y": {"datum": 0.672, "type": "quantitative", "axis": null}}},
      {"mark": {"type": "text", "text": "(d)", "align": "right", "baseline": "alphabetic", "fontSize": 20},
       "encoding": {"x": {"datum": 192.5, "type": "quantitative", "axis": null}, "y": {"datum": 1.02, "type": "quantitative", "axis": null}}}
    ]
  }
],
"columns": 2,
"spacing": {"row": 41, "column": 60},
"bounds": "flush"
}
